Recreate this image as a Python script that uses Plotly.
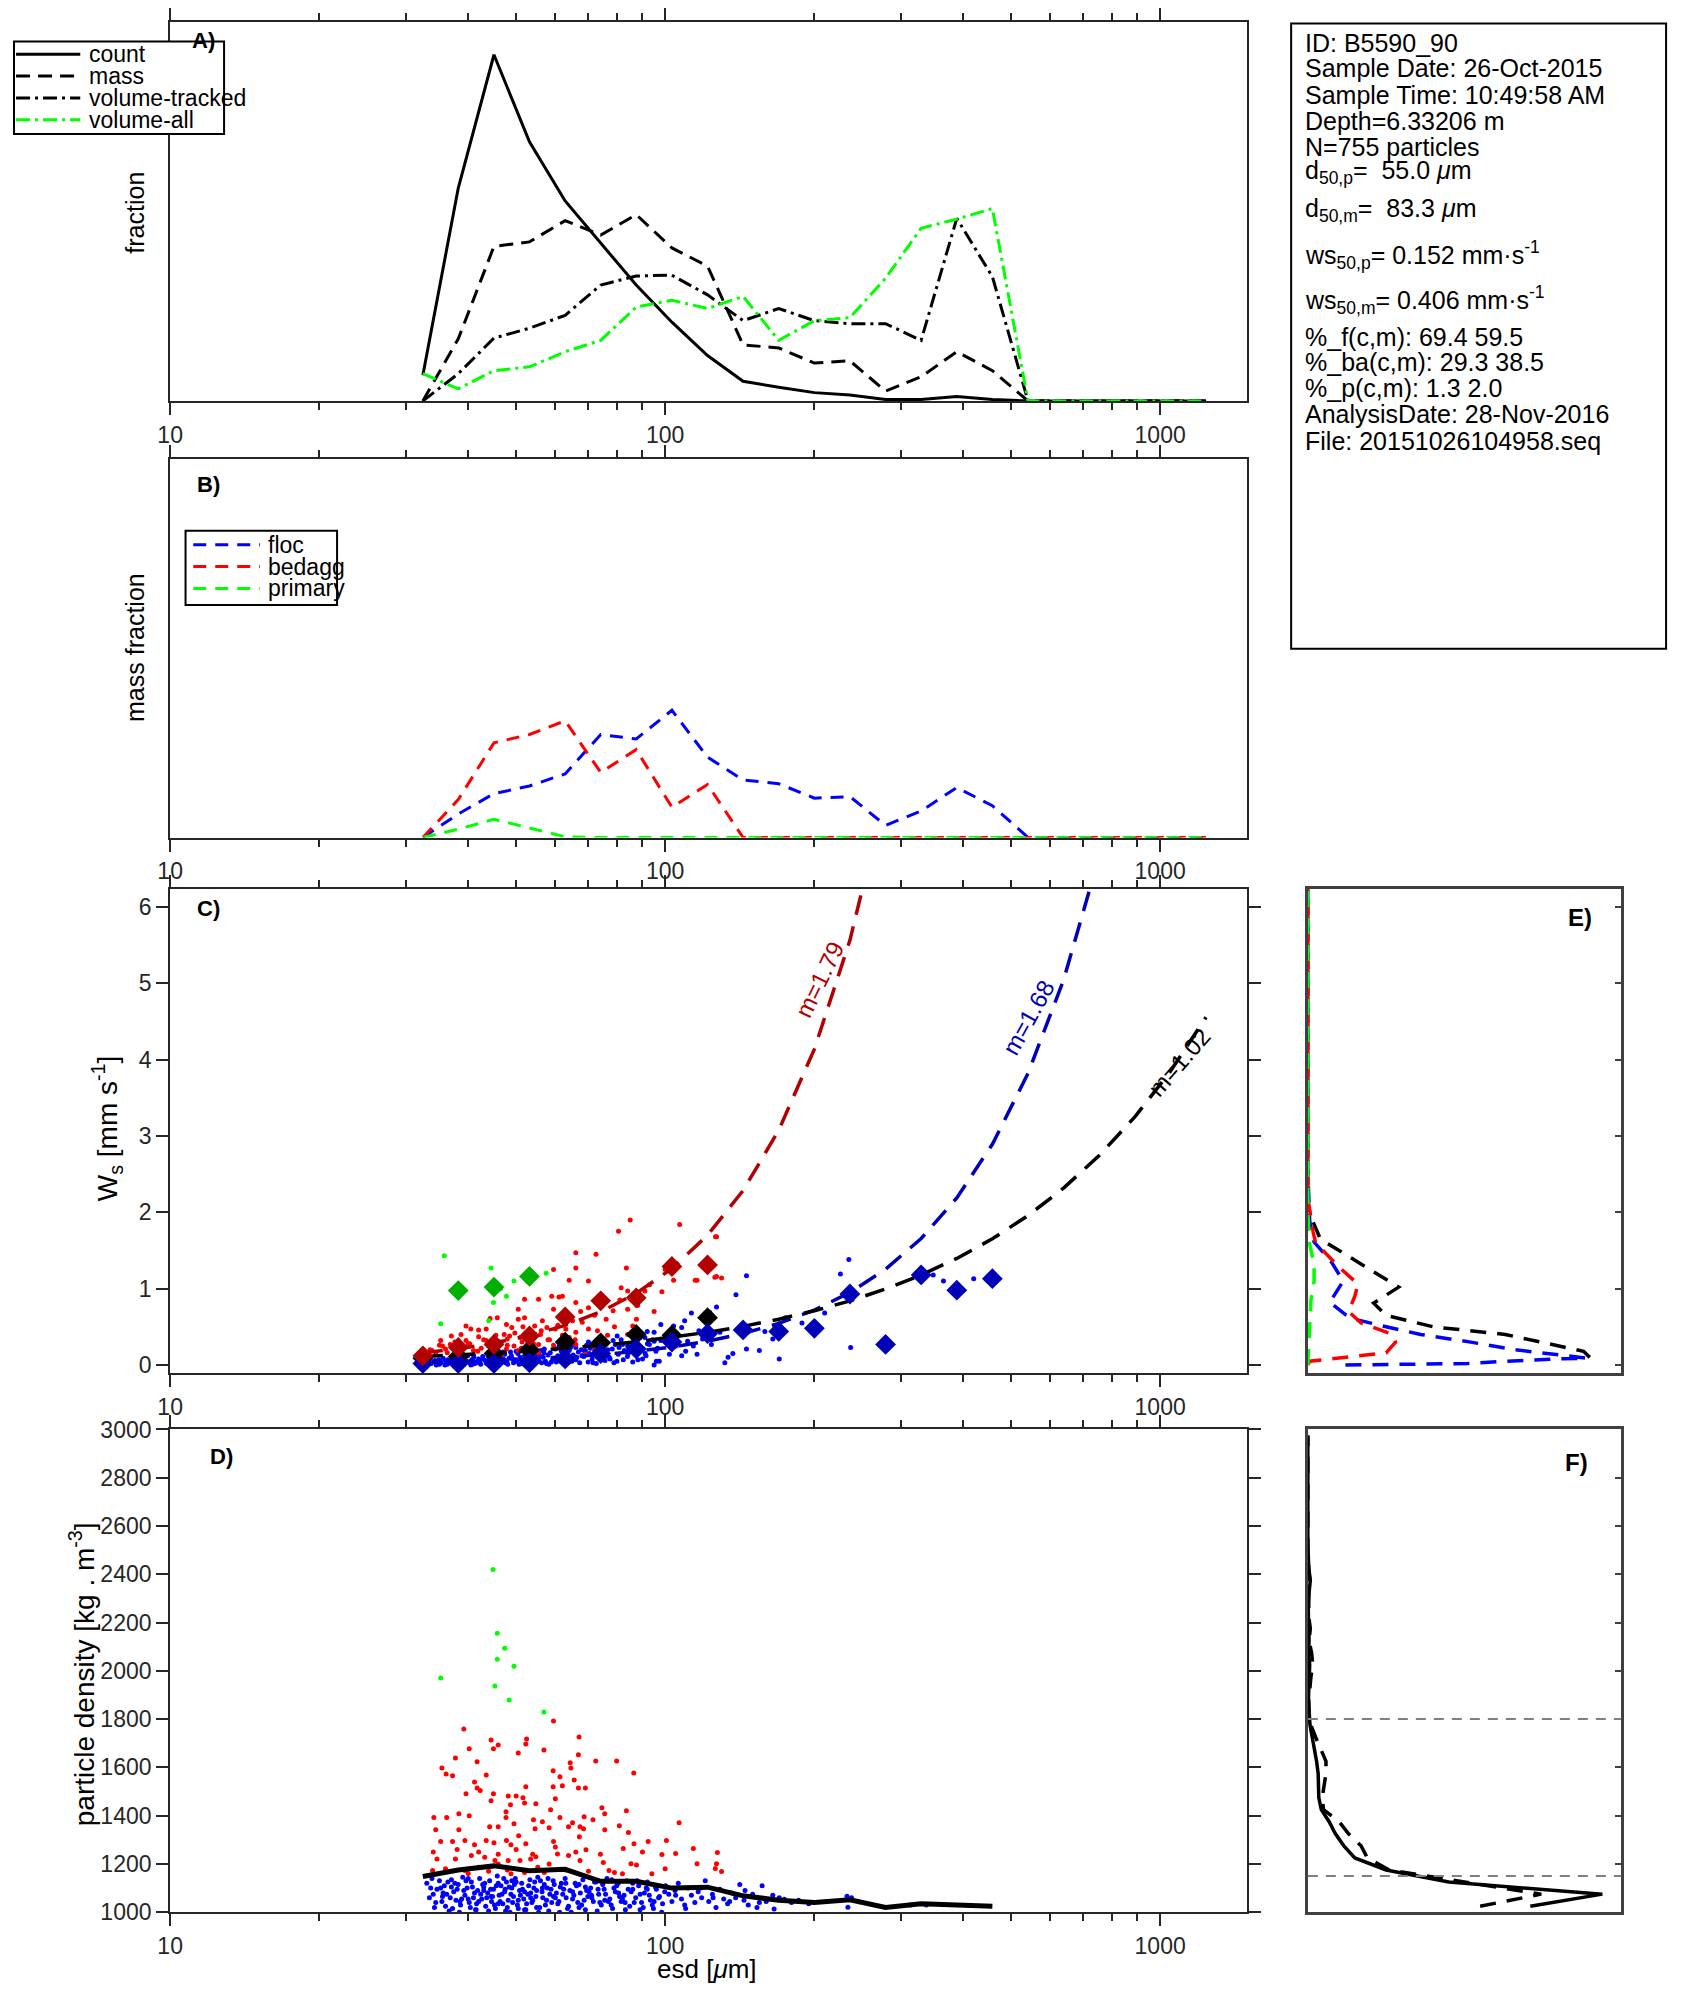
import plotly.graph_objects as go
import math

# ---------------- data ----------------
bins = [32.4, 38.2, 45.1, 53.2, 62.8, 74.1, 87.4, 103.2, 121.8, 143.7, 169.6, 200.2,
        236.2, 278.8, 329.0, 388.3, 458.2, 540.8, 638.0, 753.0, 889.0, 1049.0, 1238.0]

# Panel A
count = [0.017, 0.1405, 0.2285, 0.171, 0.132, 0.104, 0.0765, 0.052, 0.030, 0.013, 0.009, 0.0055,
         0.004, 0.001, 0.001, 0.003, 0.001, 0, 0, 0, 0, 0, 0]
mass = [0, 0.041, 0.102, 0.105, 0.119, 0.1095, 0.123, 0.101, 0.089, 0.037, 0.035, 0.025,
        0.0265, 0.0065, 0.016, 0.0325, 0.020, 0, 0, 0, 0, 0, 0]
vol_tracked = [0, 0.018, 0.0415, 0.048, 0.0565, 0.0765, 0.0825, 0.083, 0.070, 0.053, 0.061, 0.053,
               0.051, 0.051, 0.040, 0.1205, 0.082, 0, 0, 0, 0, 0, 0]
vol_all = [0.018, 0.008, 0.020, 0.0225, 0.0325, 0.040, 0.062, 0.0665, 0.061, 0.069, 0.040, 0.053,
           0.055, 0.081, 0.114, 0.120, 0.127, 0, 0, 0, 0, 0, 0]

# Panel B
floc_mass = [0, 0.0155, 0.029, 0.034, 0.042, 0.068, 0.065, 0.084, 0.053, 0.038, 0.0355, 0.026,
             0.027, 0.008, 0.0175, 0.033, 0.021, 0, 0, 0, 0, 0, 0]
bedagg_mass = [0, 0.025, 0.0625, 0.068, 0.077, 0.043, 0.058, 0.020, 0.035, 0, 0, 0,
               0, 0, 0, 0, 0, 0, 0, 0, 0, 0, 0]
primary_mass = [0, 0.0055, 0.012, 0.0065, 0.0005, 0, 0, 0, 0, 0, 0, 0,
                0, 0, 0, 0, 0, 0, 0, 0, 0, 0, 0]

# Panel C : binned means
red_bins = [32.4, 38.2, 45.1, 53.2, 62.8, 74.1, 87.4, 103.2, 121.8]
red_ws = [0.12, 0.23, 0.27, 0.38, 0.63, 0.84, 0.88, 1.29, 1.31]
green_bins = [38.2, 45.1, 53.2]
green_ws = [0.975, 1.02, 1.16]
black_bins = [32.4, 38.2, 45.1, 53.2, 62.8, 74.1, 87.4, 103.2, 121.8]
black_ws = [0.09, 0.11, 0.15, 0.2, 0.30, 0.29, 0.40, 0.39, 0.62]
blue_bins = [32.4, 38.2, 45.1, 53.2, 62.8, 74.1, 87.4, 103.2, 121.8, 143.7, 169.6, 200.2,
             236.2, 278.8, 329.0, 388.3, 458.2]
blue_ws = [0.02, 0.02, 0.02, 0.03, 0.08, 0.15, 0.21, 0.30, 0.41, 0.46, 0.44, 0.48,
           0.93, 0.27, 1.18, 0.98, 1.13]

# power-law fits  ws = a * esd^m
fit_red_m, fit_red_a = 1.79, 3.14e-4
fit_blue_m, fit_blue_a = 1.68, 9.78e-5
fit_black_m, fit_black_a = 1.02, 3.19e-3

# Panel C : individual particles
c_floc_esd = [31.8, 32.2, 32.6, 33.0, 33.3, 33.7, 34.1, 34.5, 34.9, 35.2, 35.6, 36.0, 36.3, 36.7, 37.1,
              37.5, 37.9, 38.3, 38.7, 39.1, 39.5, 39.9, 40.3, 40.7, 41.1, 41.5, 42.0, 42.4, 42.8, 43.3,
              43.7, 44.1, 44.6, 45.0, 45.5, 46.0, 46.4, 46.9, 47.4, 47.9, 48.4, 48.9, 49.4, 49.9, 50.4,
              50.9, 51.5, 52.0, 52.6, 53.1, 53.7, 54.3, 54.9, 55.5, 56.1, 56.7, 57.3, 58.0, 58.6, 59.3,
              60.0, 60.7, 61.4, 62.1, 62.9, 63.6, 64.4, 65.2, 66.0, 66.8, 67.7, 68.5, 69.4, 70.3, 71.2,
              72.1, 73.1, 74.1, 75.1, 76.1, 77.1, 78.2, 79.3, 80.4, 81.5, 82.7, 83.9, 85.1, 86.3, 87.6,
              88.9, 90.2, 91.5, 92.9, 94.3, 95.8, 97.3,
              32.0, 33.5, 35.0, 36.5, 38.0, 39.3, 40.8, 42.2, 43.6, 45.2, 46.7, 48.1, 49.6, 51.2, 52.8,
              54.5, 56.3, 58.2, 60.3, 62.5, 64.8, 67.2, 69.9, 72.6, 75.6, 78.8, 82.3, 86.0, 90.0,
              41.0, 44.0, 47.0, 50.0, 53.0, 57.0, 61.0, 65.0, 70.0, 75.0, 80.0, 86.0, 92.0,
              235, 226, 348, 365, 420, 146, 139, 237, 170, 189, 175, 210, 159, 165, 155, 146, 137, 132,
              134, 127, 123, 129, 123, 119, 113, 109.5, 108, 104, 98, 95, 91, 98, 114, 110, 116, 108,
              102, 96, 95, 87.5, 84, 82, 78.5, 75, 71, 69, 66, 64, 62,
              33.2, 34.8, 36.4, 37.8, 39.6, 41.3, 42.9, 44.3, 45.9, 47.6, 49.2, 50.7, 52.3, 54.0, 55.8,
              57.6, 59.6, 61.7, 63.9, 66.3, 68.8, 71.5, 74.4, 77.4, 80.7, 84.2, 88.1, 92.1, 96.5, 101,
              105, 111, 117, 124,
              34.3, 35.9, 37.3, 38.9, 40.5, 42.1, 43.9, 45.7, 47.1, 48.7, 50.2, 51.9, 53.5, 55.2, 56.9,
              58.9, 60.9, 63.0, 65.4, 67.9, 70.6, 73.5, 76.6, 79.9, 83.4, 87.2, 91.1, 95.0]
c_floc_ws = [0.03, 0.06, 0.01, 0.04, 0.08, 0.02, 0.05, 0.00, 0.07, 0.03, 0.09, 0.05, 0.01, 0.06, 0.03,
             0.10, 0.04, 0.07, 0.02, 0.09, 0.05, 0.12, 0.03, 0.07, 0.10, 0.04, 0.08, 0.01, 0.11, 0.06,
             0.03, 0.09, 0.13, 0.05, 0.08, 0.02, 0.11, 0.06, 0.14, 0.04, 0.09, 0.12, 0.03, 0.07, 0.15,
             0.10, 0.05, 0.12, 0.08, 0.17, 0.04, 0.11, 0.14, 0.07, 0.19, 0.10, 0.05, 0.13, 0.16, 0.08,
             0.21, 0.12, 0.06, 0.15, 0.18, 0.09, 0.23, 0.13, 0.07, 0.17, 0.20, 0.11, 0.26, 0.15, 0.08,
             0.19, 0.23, 0.13, 0.29, 0.17, 0.10, 0.21, 0.27, 0.14, 0.33, 0.19, 0.11, 0.24, 0.30, 0.16,
             0.36, 0.21, 0.12, 0.27, 0.33, 0.18, 0.05,
             0.00, 0.03, 0.01, 0.04, 0.00, 0.03, 0.01, 0.05, 0.02, 0.00, 0.04, 0.01, 0.05, 0.02, 0.00,
             0.06, 0.03, 0.01, 0.04, 0.02, 0.05, 0.03, 0.04, 0.02, 0.06, 0.03, 0.07, 0.04, 0.08,
             0.13, 0.15, 0.17, 0.18, 0.14, 0.21, 0.24, 0.27, 0.30, 0.34, 0.38, 0.40, 0.44,
             1.38, 1.19, 1.18, 1.10, 1.13, 1.17, 0.92, 0.23, 0.08, 0.55, 0.62, 0.68, 0.44, 0.34, 0.19,
             0.21, 0.15, 0.03, 0.10, 0.76, 0.69, 0.43, 0.36, 0.34, 0.68, 0.58, 0.49, 0.51, 0.53, 0.43,
             0.36, 0.32, 0.25, 0.18, 0.14, 0.12, 0.14, 0.05, 0.00, 0.21, 0.25, 0.27, 0.32, 0.25, 0.27,
             0.19, 0.23, 0.19, 0.14,
             0.05, 0.02, 0.07, 0.01, 0.06, 0.02, 0.08, 0.04, 0.10, 0.03, 0.08, 0.01, 0.10, 0.05, 0.12,
             0.02, 0.09, 0.18, 0.04, 0.10, 0.15, 0.03, 0.18, 0.08, 0.23, 0.15, 0.07, 0.28, 0.22, 0.36,
             0.25, 0.31, 0.45, 0.27,
             0.06, 0.00, 0.04, 0.08, 0.00, 0.03, 0.12, 0.01, 0.08, 0.17, 0.05, 0.02, 0.13, 0.09, 0.16,
             0.04, 0.11, 0.20, 0.08, 0.12, 0.22, 0.10, 0.20, 0.05, 0.17, 0.26, 0.15, 0.31]

c_bedagg_esd = [85, 80.5, 107, 127, 66, 72.5, 83.5, 59.5, 104, 115, 126, 130, 66, 64, 70, 81.5, 84, 93,
                98.5, 91, 52, 55.5, 59, 61, 62, 50.5, 59.5, 66, 67.5, 70, 78.5, 84, 87.5, 79, 86, 84,
                76.5, 66, 70, 73, 65, 56.5, 52, 50.5, 45.8, 44.3, 47.8, 49, 51.6, 54.5, 57.7, 60, 39.6,
                40.5, 42, 43.5, 37, 38.7, 42, 45.5, 47.3, 48.5, 51, 53.5, 56, 62, 64, 35.2, 36.8, 39.6,
                43.5, 48, 51.4, 55.5, 59.5, 66, 71.8, 36, 38.7, 41, 44.5, 47.8, 50.5, 55.5, 33.2, 34.4,
                37.2, 46.8, 69, 126.4, 127, 116, 33.5, 35.5, 40.0, 42.5, 46.0, 49.5, 53.0, 58.0,
                33.8, 35.0, 36.3, 37.6, 38.9, 40.3, 41.8, 43.0, 44.0, 45.6, 46.7, 48.0, 49.7, 51.2, 52.5,
                54.2, 56.2, 58.4, 60.7, 63.0, 65.8, 68.0, 72.0, 76.0, 81.0, 88.0, 95.0, 100]
c_bedagg_ws = [1.90, 1.75, 1.84, 1.68, 1.47, 1.45, 1.27, 1.25, 1.11, 1.11, 1.15, 1.14, 1.27, 1.11, 1.10,
               1.01, 0.97, 1.05, 0.96, 0.97, 0.86, 0.86, 0.90, 0.89, 0.90, 0.73, 0.73, 0.82, 0.70, 0.75,
               0.71, 0.73, 0.60, 0.50, 0.51, 0.40, 0.39, 0.43, 0.47, 0.45, 0.58, 0.58, 0.62, 0.60, 0.62,
               0.61, 0.53, 0.49, 0.50, 0.51, 0.49, 0.47, 0.51, 0.47, 0.46, 0.47, 0.38, 0.40, 0.37, 0.39,
               0.40, 0.38, 0.36, 0.38, 0.40, 0.39, 0.36, 0.32, 0.27, 0.32, 0.32, 0.34, 0.30, 0.27, 0.26,
               0.27, 0.24, 0.21, 0.23, 0.19, 0.23, 0.21, 0.19, 0.16, 0.14, 0.16, 0.12, 0.14, 0.14, 1.68,
               1.16, 1.11, 0.20, 0.25, 0.28, 0.22, 0.31, 0.25, 0.29, 0.33,
               0.19, 0.26, 0.16, 0.30, 0.22, 0.28, 0.18, 0.33, 0.25, 0.21, 0.30, 0.26, 0.42, 0.22, 0.34,
               0.28, 0.45, 0.33, 0.52, 0.47, 0.33, 0.56, 0.65, 0.60, 0.85, 0.78, 0.70, 1.25]

c_primary_esd = [35.8, 35.2, 44.5, 45.0, 47.8, 49.5, 57.5, 46.5, 44.0]
c_primary_ws = [1.43, 0.54, 1.27, 0.82, 0.90, 1.10, 1.20, 1.00, 0.58]

# Panel D : individual particles
d_floc_esd = [33.0, 33.4, 33.8, 34.2, 34.6, 35.0, 35.4, 35.8, 36.2, 36.6, 37.0, 37.4, 37.8, 38.2, 38.6,
              39.0, 39.4, 39.8, 40.2, 40.6, 41.0, 41.4, 41.8, 42.2, 42.6, 43.0, 43.4, 43.8, 44.2, 44.6,
              45.0, 45.4, 45.8, 46.2, 46.6, 47.0, 47.4, 47.8, 48.2, 48.6, 49.0, 49.4, 49.8, 50.3, 50.8,
              51.3, 51.8, 52.3, 52.8, 53.3, 53.8, 54.3, 54.8, 55.3, 55.8, 56.4, 57.0, 57.6, 58.2, 58.8,
              59.4, 60.0, 60.7, 61.4, 62.1, 62.8, 63.5, 64.2, 65.0, 65.8, 66.6, 67.4, 68.2, 69.0, 69.8,
              70.7, 71.6, 72.5, 73.4, 74.3, 75.3, 76.3, 77.3, 78.3, 79.3, 80.4, 81.5, 82.6, 83.7, 84.8,
              86.0, 87.2, 88.4, 89.6, 90.8, 92.1, 93.4, 94.7, 96.0, 97.4, 98.8, 100.2, 101.7, 103.2,
              104.7, 106.3, 107.9, 109.5, 111.2, 113.0, 114.8, 116.6, 118.5, 120.5, 122.5, 124.6, 126.7,
              129.0, 131.3, 133.7, 136.2, 138.8, 141.5, 144.3, 147.2, 150.2, 153.3, 157, 160, 166, 170,
              174, 180, 186, 195, 233, 234, 238, 313, 337,
              34.0, 35.2, 36.0, 36.8, 37.6, 38.4, 39.2, 40.0, 40.8, 41.6, 42.4, 43.2, 44.0, 44.8, 45.6,
              46.4, 47.2, 48.0, 48.8, 49.6, 50.5, 51.5, 52.5, 53.5, 54.5, 55.5, 56.6, 57.8, 59.0, 60.3,
              61.7, 63.1, 64.6, 66.2, 67.8, 69.4, 71.1, 72.9, 74.8, 76.8, 78.8, 80.9, 83.1, 85.4, 87.8,
              90.3, 92.9, 95.6, 98.4,
              33.6, 34.4, 35.6, 36.4, 37.2, 38.0, 38.8, 39.6, 40.4, 41.2, 42.0, 42.8, 43.6, 44.4, 45.2,
              46.0, 46.8, 47.6, 48.4, 49.2, 50.0, 51.0, 52.0, 53.0, 54.0, 55.0, 56.0, 57.3, 58.5, 59.7,
              61.0, 62.4, 63.8, 65.4, 67.0, 68.6, 70.2, 72.0, 73.8, 75.8, 77.8, 79.8, 82.0, 84.2, 86.6,
              89.0, 91.6, 94.2, 97.0, 99.8,
              35.5, 37.0, 38.5, 40.0, 41.5, 43.0, 44.5, 46.0, 47.5, 49.0, 50.5, 52.0, 53.5, 55.0, 56.5,
              58.0, 59.5, 61.2, 63.0, 65.0, 67.0, 69.0, 71.0, 73.2, 75.5, 78.0, 80.5, 83.0, 86.0, 89.0,
              92.0, 95.0, 105, 110, 118, 125, 135, 145, 155, 165]
d_floc_rho = [1120, 1060, 1140, 1020, 1095, 1130, 1045, 1110, 1075, 1005, 1135, 1085, 1050, 1115, 1030,
              1145, 1070, 1100, 1040, 1125, 1060, 1010, 1090, 1140, 1055, 1105, 1025, 1080, 1130, 1045,
              1095, 1015, 1150, 1070, 1110, 1035, 1085, 1125, 1050, 1000, 1100, 1065, 1140, 1030, 1090,
              1120, 1055, 1010, 1075, 1135, 1040, 1100, 1065, 1145, 1020, 1085, 1115, 1050, 1005, 1095,
              1130, 1060, 1035, 1105, 1075, 1140, 1015, 1090, 1055, 1120, 1040, 1080, 1135, 1010, 1065,
              1100, 1045, 1125, 1075, 1030, 1095, 1140, 1055, 1015, 1085, 1120, 1045, 1070, 1130, 1025,
              1095, 1060, 1110, 1040, 1080, 1125, 1050, 1015, 1095, 1065, 1035, 1110, 1075, 1045,
              1090, 1120, 1055, 1030, 1100, 1070, 1040, 1085, 1060, 1130, 1045, 1075, 1020,
              1095, 1055, 1035, 1080, 1060, 1115, 1050, 1030, 1075, 1020, 1110, 1045, 1013, 1060,
              1054, 1040, 1050, 1035, 1066, 1021, 1060, 1030, 1030,
              1075, 1100, 1025, 1060, 1120, 1000, 1090, 1055, 1105, 1035, 1075, 1120, 1005, 1065, 1110,
              1045, 1140, 1020, 1075, 1115, 1050, 1095, 1035, 1080, 1125, 1000, 1060, 1100, 1040, 1080,
              1120, 1060, 1000, 1110, 1030, 1090, 1060, 1005, 1115, 1045, 1100, 1065, 1010, 1085, 1130,
              1020, 1070, 1105, 1000,
              1100, 1040, 1080, 1125, 1015, 1095, 1055, 1130, 1020, 1080, 1045, 1115, 1060, 1095, 1030,
              1120, 1075, 1005, 1105, 1040, 1125, 1070, 1010, 1110, 1050, 1090, 1130, 1030, 1075, 1115,
              1045, 1095, 1025, 1070, 1115, 1050, 1085, 1125, 1040, 1075, 1030, 1110, 1055, 1095, 1040,
              1075, 1100, 1030, 1060, 1085,
              1065, 1105, 1045, 1140, 1010, 1090, 1065, 1035, 1095, 1130, 1015, 1085, 1060, 1020, 1100,
              1140, 1065, 1000, 1120, 1085, 1020, 1105, 1070, 1095, 1050, 1135, 1080, 1040, 1120, 1010,
              1095, 1045, 1070, 1015, 1100, 1060, 1045, 1090, 1040, 1070]

d_bedagg_esd = [59.5, 39.2, 67, 44.5, 52.5, 46, 45, 40.2, 52.3, 56.9, 50.5, 66.8, 37.7, 72.4, 79.8, 41.7,
                64.3, 64.5, 35.4, 36.1, 37.2, 43.5, 59.4, 86.4, 61.3, 65.5, 41.2, 41.7, 42.3, 59.4, 62,
                66.8, 69, 52.3, 39.6, 45, 48.2, 50, 51.6, 60, 44.5, 48.7, 52, 54.8, 58.7, 74.5, 83.5,
                75.5, 38.3, 40.2, 47.7, 47.7, 49.5, 54.2, 56.5, 61.3, 68.6, 71.5, 65, 34.1, 36.2, 34.4,
                38.3, 44.2, 46, 54.6, 58.3, 63.8, 67.3, 68.4, 75.5, 80.8, 84.3, 106.7, 35.2, 37.2, 39.4,
                41.2, 43.5, 45.1, 47.8, 48.8, 50.6, 52.3, 59.5, 67.1, 69.2, 82.3, 86.5, 92.4, 100.6, 114,
                127.5, 98.5, 105, 116, 127, 130, 126.3, 85.3, 87.5, 75, 77, 67.3, 63.8, 60.6, 54.8, 53.5,
                50.9, 48.2, 45.3, 43.2, 40.6, 37.7, 34.6, 33.9, 39.4, 42, 46, 48.8, 55.3, 58.3, 94, 82,
                34.0, 36.0, 38.0, 40.0, 42.0, 44.0, 46.0, 48.0, 50.0, 52.0, 54.0, 57.0, 60.0, 63.0, 66.0,
                70.0, 74.0, 79.0, 90.0, 100.0]
d_bedagg_rho = [1792, 1759, 1726, 1714, 1718, 1693, 1677, 1677, 1697, 1672, 1660, 1652, 1639, 1627, 1627,
                1623, 1619, 1598, 1598, 1573, 1565, 1569, 1586, 1577, 1561, 1548, 1540, 1515, 1504, 1520,
                1524, 1515, 1515, 1520, 1491, 1491, 1482, 1482, 1474, 1470, 1462, 1445, 1453, 1449, 1425,
                1433, 1420, 1408, 1408, 1400, 1392, 1416, 1367, 1383, 1375, 1392, 1396, 1383, 1371, 1392,
                1392, 1342, 1342, 1354, 1354, 1346, 1350, 1354, 1354, 1346, 1342, 1358, 1330, 1371, 1293,
                1293, 1297, 1280, 1297, 1288, 1297, 1280, 1317, 1284, 1293, 1313, 1259, 1264, 1284, 1293,
                1297, 1264, 1247, 1239, 1243, 1201, 1201, 1169, 1181, 1201, 1196, 1206, 1173, 1214, 1235,
                1241, 1230, 1221, 1214, 1214, 1214, 1228, 1235, 1221, 1221, 1173, 1173, 1186, 1200, 1159,
                1186, 1200, 1159, 1159,
                1250, 1180, 1260, 1160, 1250, 1170, 1240, 1175, 1260, 1165, 1240, 1165, 1270, 1175, 1250,
                1170, 1240, 1165, 1250, 1180]

d_primary_esd = [44.9, 45.8, 47.4, 45.8, 49.5, 35.2, 45.3, 48.4, 56.9]
d_primary_rho = [2420, 2156, 2094, 2048, 2019, 1970, 1937, 1879, 1829]

# Panel D : mean density per bin
d_mean_bins = [32.4, 38.2, 45.1, 53.2, 62.8, 74.1, 87.4, 103.2, 121.8, 143.7, 169.6, 200.2,
               236.2, 278.8, 329.0, 388.3, 458.2]
d_mean_rho = [1148, 1175, 1192, 1172, 1178, 1128, 1128, 1100, 1104, 1068, 1050, 1040,
              1052, 1020, 1035, 1028, 1025]

# Panel E : settling velocity distributions (fraction, ws)
e_all_frac = [0.90, 0.88, 0.63, 0.40, 0.25, 0.21, 0.29, 0.04, 0.012, 0.0, 0.0]
e_all_ws = [0.10, 0.18, 0.40, 0.50, 0.65, 0.81, 1.02, 1.65, 1.92, 2.10, 6.30]
e_floc_frac = [0.12, 0.31, 0.51, 0.61, 0.72, 0.80, 0.89, 0.66, 0.52, 0.36, 0.25, 0.15, 0.12, 0.07,
               0.113, 0.075, 0.02, 0.006, 0.0, 0.0]
e_floc_ws = [0.0, 0.005, 0.02, 0.045, 0.07, 0.08, 0.09, 0.2, 0.3, 0.4, 0.5, 0.6, 0.66, 0.82,
             1.1, 1.35, 1.61, 1.88, 2.55, 6.3]
e_bedagg_frac = [0.0, 0.006, 0.25, 0.28, 0.27, 0.17, 0.13, 0.15, 0.16, 0.10, 0.025, 0.017, 0.0, 0.0]
e_bedagg_ws = [0.0, 0.05, 0.16, 0.30, 0.40, 0.55, 0.70, 0.90, 1.06, 1.28, 1.6, 1.74, 2.19, 6.3]
e_primary_frac = [0.0, 0.004, 0.008, 0.01, 0.02, 0.02, 0.005, 0.0, 0.0]
e_primary_ws = [0.0, 0.3, 0.6, 0.85, 1.1, 1.32, 1.6, 2.0, 6.3]

# Panel F : density distributions
f_rho = [1025, 1075, 1125, 1175, 1225, 1275, 1325, 1375, 1425, 1475, 1525, 1575, 1625, 1675,
         1725, 1775, 1825, 1875, 1925, 1975, 2025, 2075, 2125, 2175, 2225, 2275, 2325, 2375,
         2425, 2475, 2525, 2575, 2625, 2675, 2725, 2775, 2825, 2875, 2925, 2975]
f_count = [0.71, 0.94, 0.45, 0.25, 0.15, 0.115, 0.088, 0.068, 0.043, 0.035, 0.034, 0.033, 0.028, 0.020,
           0.014, 0.007, 0.004, 0.002, 0.003, 0.004, 0.006, 0.002, 0.004, 0.003, 0.002, 0.001, 0.004,
           0.008, 0.003, 0.001, 0, 0, 0, 0, 0, 0, 0, 0, 0, 0]
f_mass = [0.55, 0.745, 0.50, 0.26, 0.19, 0.17, 0.13, 0.10, 0.05, 0.046, 0.052, 0.058, 0.058, 0.040,
          0.025, 0.010, 0.004, 0.003, 0.006, 0.010, 0.016, 0.012, 0.004, 0.008, 0.003, 0.002, 0.003,
          0.006, 0.002, 0, 0, 0, 0, 0, 0, 0, 0, 0, 0, 0]
f_thresholds = [1150, 1800]

x_major = [10, 100, 1000]
x_major_text = ["10", "100", "1000"]
x_minor = [20, 30, 40, 50, 60, 70, 80, 90, 200, 300, 400, 500, 600, 700, 800, 900]

legend_a_names = ["count", "mass", "volume-tracked", "volume-all"]
legend_b_names = ["floc", "bedagg", "primary"]

info_lines = [
    "ID: B5590_90",
    "Sample Date: 26-Oct-2015",
    "Sample Time: 10:49:58 AM",
    "Depth=6.33206 m",
    "N=755 particles",
    "d<sub>50,p</sub>=  55.0 <i>μ</i>m",
    "d<sub>50,m</sub>=  83.3 <i>μ</i>m",
    "ws<sub>50,p</sub>= 0.152 mm·s<sup>-1</sup>",
    "ws<sub>50,m</sub>= 0.406 mm·s<sup>-1</sup>",
    "%_f(c,m): 69.4 59.5",
    "%_ba(c,m): 29.3 38.5",
    "%_p(c,m): 1.3 2.0",
    "AnalysisDate: 28-Nov-2016",
    "File: 20151026104958.seq",
]

# ---------------- layout helpers ----------------
W, H = 1694, 2015
FONT = "Liberation Sans, Arial, Helvetica, sans-serif"
AX = "#262626"
DKRED = "rgb(179,0,0)"
DKBLUE = "rgb(0,0,185)"
DKGREEN = "rgb(0,175,0)"


def RX(d):
    # layout position measured on the reference (display units) -> figure pixels
    return 170 + (d - 141) * 1.294


def RY(d):
    return 21 + (d - 25) * 1.3008


def fx(px):
    return px / W


def fy(py):
    return 1 - py / H


XDOM = [fx(RX(132)), fx(RX(971))]
XDOM_R = [fx(RX(1018)), fx(RX(1262))]
YA = [fy(RY(311)), fy(RY(16))]
YB = [fy(RY(651)), fy(RY(356))]
YC = [fy(RY(1068)), fy(RY(691))]
YD = [fy(RY(1488)), fy(RY(1112))]


def xlog(anchor):
    return dict(type="log", range=[1, 3.1764], domain=XDOM, anchor=anchor,
                showline=True, linecolor=AX, linewidth=2, mirror="allticks",
                ticks="outside", ticklen=12, tickwidth=2, tickcolor=AX,
                tickmode="array", tickvals=x_major, ticktext=x_major_text,
                minor=dict(ticks="outside", ticklen=7, tickwidth=1.5, tickcolor=AX,
                           tickmode="array", tickvals=x_minor, showgrid=False),
                showgrid=False, zeroline=False,
                tickfont=dict(size=23, color=AX, family=FONT))


def ybare(anchor, dom, rng):
    return dict(domain=dom, anchor=anchor, range=rng, showline=True, linecolor=AX,
                linewidth=2, mirror=True, ticks="", showticklabels=False,
                showgrid=False, zeroline=False)


def yticks(anchor, dom, rng, dtick):
    return dict(domain=dom, anchor=anchor, range=rng, showline=True, linecolor=AX,
                linewidth=2, mirror="allticks", ticks="outside", ticklen=12, tickwidth=2,
                tickcolor=AX, dtick=dtick, tick0=0, showgrid=False, zeroline=False,
                tickfont=dict(size=23, color=AX, family=FONT))


def yright(anchor, dom, rng, dtick):
    return dict(domain=dom, anchor=anchor, range=rng, side="right", showline=True,
                linecolor="#404040", linewidth=2.5, mirror=True, ticks="inside", ticklen=6,
                tickwidth=2, tickcolor="#404040", dtick=dtick, tick0=0,
                showticklabels=False, showgrid=False, zeroline=False)


def xplain(anchor):
    return dict(domain=XDOM_R, anchor=anchor, range=[0, 1], showline=True,
                linecolor="#404040", linewidth=2.5, mirror=True, ticks="",
                showticklabels=False, showgrid=False, zeroline=False)


fig = go.Figure()

# ---------------- Panel A ----------------
style_a = [dict(color="black", width=3),
           dict(color="black", width=3, dash="14px,8px"),
           dict(color="black", width=3, dash="14px,5px,3px,5px"),
           dict(color="rgb(0,255,0)", width=3, dash="14px,5px,3px,5px")]
for name, vals, st in zip(legend_a_names, [count, mass, vol_tracked, vol_all], style_a):
    fig.add_trace(go.Scatter(x=bins, y=vals, mode="lines", name=name, line=st,
                             xaxis="x", yaxis="y"))

# ---------------- Panel B ----------------
style_b = [dict(color="rgb(0,0,255)", width=3, dash="13px,9px"),
           dict(color="rgb(255,0,0)", width=3, dash="13px,9px"),
           dict(color="rgb(0,255,0)", width=3, dash="13px,9px")]
for name, vals, st in zip(legend_b_names, [floc_mass, bedagg_mass, primary_mass], style_b):
    fig.add_trace(go.Scatter(x=bins, y=vals, mode="lines", name=name, line=st,
                             xaxis="x2", yaxis="y2"))

# ---------------- Panel C ----------------
dot = dict(size=5)
fig.add_trace(go.Scatter(x=c_floc_esd, y=c_floc_ws, mode="markers",
                         marker=dict(color="rgb(0,0,255)", **dot), xaxis="x3", yaxis="y3"))
fig.add_trace(go.Scatter(x=c_bedagg_esd, y=c_bedagg_ws, mode="markers",
                         marker=dict(color="rgb(255,0,0)", **dot), xaxis="x3", yaxis="y3"))
fig.add_trace(go.Scatter(x=c_primary_esd, y=c_primary_ws, mode="markers",
                         marker=dict(color="rgb(0,255,0)", **dot), xaxis="x3", yaxis="y3"))

for m, a, col in [(fit_red_m, fit_red_a, DKRED), (fit_blue_m, fit_blue_a, DKBLUE),
                  (fit_black_m, fit_black_a, "black")]:
    fig.add_trace(go.Scatter(x=bins, y=[a * d ** m for d in bins], mode="lines",
                             line=dict(color=col, width=3.5, dash="20px,12px"),
                             xaxis="x3", yaxis="y3"))

dm = dict(symbol="diamond", size=16)
fig.add_trace(go.Scatter(x=black_bins, y=black_ws, mode="markers",
                         marker=dict(color="black", **dm), xaxis="x3", yaxis="y3"))
fig.add_trace(go.Scatter(x=blue_bins, y=blue_ws, mode="markers",
                         marker=dict(color=DKBLUE, **dm), xaxis="x3", yaxis="y3"))
fig.add_trace(go.Scatter(x=red_bins, y=red_ws, mode="markers",
                         marker=dict(color=DKRED, **dm), xaxis="x3", yaxis="y3"))
fig.add_trace(go.Scatter(x=green_bins, y=green_ws, mode="markers",
                         marker=dict(color=DKGREEN, **dm), xaxis="x3", yaxis="y3"))

# ---------------- Panel D ----------------
fig.add_trace(go.Scatter(x=d_floc_esd, y=d_floc_rho, mode="markers",
                         marker=dict(color="rgb(0,0,255)", **dot), xaxis="x4", yaxis="y4"))
fig.add_trace(go.Scatter(x=d_bedagg_esd, y=d_bedagg_rho, mode="markers",
                         marker=dict(color="rgb(255,0,0)", **dot), xaxis="x4", yaxis="y4"))
fig.add_trace(go.Scatter(x=d_primary_esd, y=d_primary_rho, mode="markers",
                         marker=dict(color="rgb(0,255,0)", **dot), xaxis="x4", yaxis="y4"))
fig.add_trace(go.Scatter(x=d_mean_bins, y=d_mean_rho, mode="lines",
                         line=dict(color="black", width=5), xaxis="x4", yaxis="y4"))

# ---------------- Panel E ----------------
for fr, ws, col in [(e_all_frac, e_all_ws, "black"), (e_floc_frac, e_floc_ws, "rgb(0,0,255)"),
                    (e_bedagg_frac, e_bedagg_ws, "rgb(255,0,0)"),
                    (e_primary_frac, e_primary_ws, "rgb(0,255,0)")]:
    fig.add_trace(go.Scatter(x=fr, y=ws, mode="lines",
                             line=dict(color=col, width=3.5, dash="16px,11px"),
                             xaxis="x5", yaxis="y5"))

# ---------------- Panel F ----------------
for t in f_thresholds:
    fig.add_shape(type="line", xref="x6 domain", x0=0, x1=1, yref="y6", y0=t, y1=t,
                  line=dict(color="rgb(128,128,128)", width=2, dash="10px,8px"))
fig.add_trace(go.Scatter(x=f_count, y=f_rho, mode="lines",
                         line=dict(color="black", width=3.5), xaxis="x6", yaxis="y6"))
fig.add_trace(go.Scatter(x=f_mass, y=f_rho, mode="lines",
                         line=dict(color="black", width=3.5, dash="16px,11px"),
                         xaxis="x6", yaxis="y6"))

# ---------------- annotations ----------------
ann = []


def label(text, px, py, size=23, angle=0, bold=False, color="black", anchor="center"):
    ann.append(dict(text=("<b>%s</b>" % text) if bold else text, x=fx(px), y=fy(py),
                    xref="paper", yref="paper", showarrow=False, textangle=angle,
                    xanchor=anchor, yanchor="middle",
                    font=dict(size=size, color=color, family=FONT)))


# legends (boxes, sample lines and real text labels)
def legend_box(x0, x1, y0, y1, names, styles, rows, line_x0, line_x1, text_x):
    fig.add_shape(type="rect", xref="paper", yref="paper", layer="above",
                  x0=fx(x0), x1=fx(x1), y0=fy(y1), y1=fy(y0),
                  fillcolor="white", line=dict(color="black", width=2))
    for name, st, ry in zip(names, styles, rows):
        fig.add_shape(type="line", xref="paper", yref="paper", layer="above",
                      x0=fx(line_x0), x1=fx(line_x1), y0=fy(ry), y1=fy(ry),
                      line=dict(color=st["color"], width=3, dash=st.get("dash", "solid")))
        label(name, text_x, ry, size=23, anchor="left")


legend_box(max(RX(3), 1), RX(174), RY(31), RY(103), legend_a_names, style_a,
           [RY(41), RY(58), RY(75), RY(92)], RX(12), RX(62), RX(67))
legend_box(RX(144), RX(262), RY(412), RY(470), legend_b_names, style_b,
           [RY(423), RY(440), RY(457)], RX(150), RX(202), RX(207))

label("A)", RX(158), RY(30), size=22, bold=True)
label("B)", RX(162), RY(376), size=22, bold=True)
label("C)", RX(162), RY(706), size=22, bold=True)
label("D)", RX(172), RY(1133), size=22, bold=True)
label("E)", RX(1230), RY(713), size=24, bold=True)
label("F)", RX(1227), RY(1138), size=24, bold=True)

label("fraction", RX(105), RY(164), size=25, angle=-90)
label("mass fraction", RX(105), RY(503), size=25, angle=-90)
label("W<sub>s</sub> [mm s<sup>-1</sup>]", RX(83), RY(878), size=28, angle=-90)
label("particle density [kg . m<sup>-3</sup>]", RX(63), RY(1303), size=28, angle=-90)
label("esd [<i>μ</i>m]", RX(550), RY(1532), size=26)

info_y = [32, 52, 73, 93, 113, 133, 162, 197, 232, 261, 281, 301, 321, 342]
for t, yy in zip(info_lines, info_y):
    label(t, RX(1014), RY(yy), size=25, anchor="left")

# fit labels on the curves (data coordinates; log axis uses log10)
for txt, esd, ws, ang, col in [("m=1.79", 205, 5.05, -64, DKRED),
                               ("m=1.68", 542, 4.55, -61, DKBLUE),
                               ("m=1.02", 1092, 3.96, -49, "black")]:
    ann.append(dict(text=txt, x=math.log10(esd), y=ws, xref="x3", yref="y3", showarrow=False,
                    textangle=ang, font=dict(size=24, color=col, family=FONT)))

fig.add_shape(type="rect", xref="paper", yref="paper", x0=fx(RX(1005)), x1=fx(RX(1297)),
              y0=fy(RY(504)), y1=fy(RY(17)), line=dict(color="black", width=2))

fig.update_layout(
    width=W, height=H, margin=dict(l=0, r=0, t=0, b=0),
    paper_bgcolor="white", plot_bgcolor="white",
    font=dict(family=FONT, color="black"),
    xaxis=xlog("y"), yaxis=ybare("x", YA, [0, 0.25]),
    xaxis2=xlog("y2"), yaxis2=ybare("x2", YB, [0, 0.25]),
    xaxis3=xlog("y3"), yaxis3=yticks("x3", YC, [-0.104, 6.234], 1),
    xaxis4=xlog("y4"), yaxis4=yticks("x4", YD, [1000, 3000], 200),
    xaxis5=xplain("y5"), yaxis5=yright("x5", YC, [-0.104, 6.234], 1),
    xaxis6=xplain("y6"), yaxis6=yright("x6", YD, [1000, 3000], 200),
    annotations=ann,
    showlegend=False,
)

fig.write_html("out.html", config={"displayModeBar": False},
               post_script="document.body.style.margin='0';document.body.style.overflow='hidden';")
